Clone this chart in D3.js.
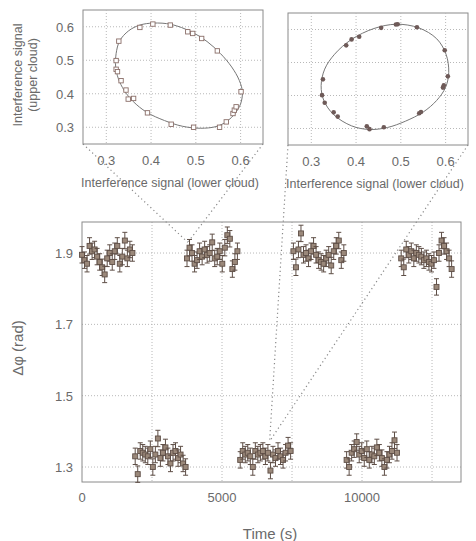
<!DOCTYPE html>
<html>
<head>
<meta charset="utf-8">
<script src="https://cdn.jsdelivr.net/npm/d3@7"></script>
<style>
  body { margin: 0; background: #fff; }
  text { font-family: "Liberation Sans", Arial, sans-serif; fill: #6a6a6a; }
</style>
</head>
<body>
<div id="chart"></div>
<script>
// main panel: phase difference vs time, seven measurement runs
const t_up1 = [0,90,180,270,360,450,540,630,720,810,900,990,1080,1170,1260,1350,1440,1530,1620,1710,1800];
const phi_up1 = [1.895,1.88,1.87,1.92,1.905,1.91,1.89,1.875,1.86,1.84,1.885,1.90,1.875,1.905,1.92,1.87,1.89,1.935,1.885,1.91,1.90];
const t_lo1 = [1900,1990,2080,2170,2260,2350,2440,2530,2620,2710,2800,2890,2980,3070,3160,3250,3340,3430,3520,3610,3700];
const phi_lo1 = [1.33,1.28,1.345,1.34,1.335,1.33,1.35,1.30,1.335,1.38,1.325,1.34,1.355,1.33,1.31,1.34,1.345,1.325,1.335,1.31,1.30];
const t_up2 = [3750,3840,3930,4020,4110,4200,4290,4380,4470,4560,4650,4740,4830,4920,5010,5100,5190,5280,5370,5460,5550];
const phi_up2 = [1.885,1.915,1.90,1.87,1.88,1.905,1.89,1.91,1.895,1.90,1.93,1.885,1.89,1.905,1.87,1.915,1.95,1.94,1.855,1.875,1.905];
const t_lo2 = [5650,5740,5830,5920,6010,6100,6190,6280,6370,6460,6550,6640,6730,6820,6910,7000,7090,7180,7270,7360,7450];
const phi_lo2 = [1.32,1.345,1.335,1.34,1.33,1.30,1.345,1.335,1.34,1.345,1.33,1.34,1.29,1.335,1.325,1.345,1.33,1.32,1.34,1.36,1.345];
const t_up3 = [7550,7640,7730,7820,7910,8000,8090,8180,8270,8360,8450,8540,8630,8720,8810,8900,8990,9080,9170,9260,9350];
const phi_up3 = [1.905,1.86,1.91,1.955,1.895,1.90,1.885,1.905,1.92,1.895,1.88,1.875,1.87,1.885,1.895,1.865,1.905,1.92,1.935,1.88,1.90];
const t_lo3 = [9450,9540,9630,9720,9810,9900,9990,10080,10170,10260,10350,10440,10530,10620,10710,10800,10890,10980,11070,11160,11250];
const phi_lo3 = [1.32,1.30,1.34,1.35,1.37,1.335,1.345,1.325,1.35,1.32,1.335,1.33,1.355,1.34,1.325,1.30,1.32,1.335,1.345,1.375,1.34];
const t_up4 = [11400,11490,11580,11670,11760,11850,11940,12030,12120,12210,12300,12390,12480,12570,12660,12750,12840,12930,13020,13110,13200];
const phi_up4 = [1.885,1.86,1.91,1.895,1.905,1.885,1.90,1.895,1.89,1.88,1.885,1.875,1.87,1.88,1.805,1.90,1.935,1.92,1.905,1.885,1.855];
const phiError = 0.023;

const timeTicks = [0, 5000, 10000];
const timeGrid = [2500, 5000, 7500, 10000, 12500];
const phiTicks = [1.3, 1.5, 1.7, 1.9];

// insets: upper vs lower cloud interference signal, with ellipse fit
const lowerA = [0.375,0.404,0.443,0.482,0.493,0.513,0.548,0.328,0.322,0.322,0.325,0.333,0.344,0.349,0.361,0.392,0.445,0.495,0.553,0.568,0.583,0.586,0.590,0.601];
const upperA = [0.598,0.608,0.605,0.585,0.580,0.565,0.528,0.557,0.499,0.473,0.466,0.439,0.411,0.384,0.386,0.343,0.309,0.300,0.300,0.316,0.341,0.351,0.361,0.406];
const fitA_x = [0.405,0.445,0.49,0.525,0.555,0.58,0.597,0.604,0.600,0.588,0.57,0.545,0.51,0.47,0.43,0.39,0.36,0.34,0.327,0.321,0.322,0.33,0.35,0.375];
const fitA_y = [0.611,0.607,0.585,0.556,0.520,0.480,0.440,0.405,0.370,0.342,0.318,0.302,0.297,0.303,0.320,0.345,0.377,0.410,0.445,0.480,0.520,0.558,0.588,0.605];

const lowerB = [0.489,0.493,0.456,0.536,0.407,0.390,0.378,0.598,0.605,0.596,0.594,0.326,0.324,0.330,0.350,0.359,0.424,0.430,0.462,0.541,0.545];
const upperB = [0.615,0.616,0.605,0.607,0.578,0.570,0.552,0.537,0.458,0.431,0.424,0.449,0.401,0.378,0.349,0.336,0.307,0.298,0.304,0.346,0.350];
const fitB_x = [0.49,0.54,0.58,0.601,0.607,0.600,0.58,0.55,0.51,0.47,0.43,0.39,0.35,0.328,0.322,0.330,0.352,0.39,0.44];
const fitB_y = [0.616,0.605,0.572,0.525,0.470,0.425,0.385,0.350,0.322,0.303,0.297,0.308,0.342,0.385,0.430,0.480,0.525,0.570,0.603];
const cloudTicks = [0.3, 0.4, 0.5, 0.6];

// which run each inset was taken from (time, phase)
const zoomTime = [3780, 6700];
const zoomPhase = [1.93, 1.372];

const W = 476, H = 541;
const svg = d3.select("#chart").append("svg").attr("width", W).attr("height", H);

const x = d3.scaleLinear().domain([0, 13535]).range([82, 461]);
const y = d3.scaleLinear().domain([1.258, 1.987]).range([482, 222]);

const gridColor = "#b8b8b8", frameColor = "#8a8a8a";

// main grid
svg.append("g").selectAll("line").data(timeGrid).join("line")
  .attr("x1", d => x(d)).attr("x2", d => x(d)).attr("y1", 222).attr("y2", 482)
  .attr("stroke", gridColor).attr("stroke-dasharray", "1,2");
svg.append("g").selectAll("line").data(phiTicks).join("line")
  .attr("x1", 82).attr("x2", 461).attr("y1", d => y(d)).attr("y2", d => y(d))
  .attr("stroke", gridColor).attr("stroke-dasharray", "1,2");

// connectors from insets to the runs
const insetA = {x0: 83, y0: 10, x1: 263, y1: 144};
const insetB = {x0: 288, y0: 13, x1: 468, y1: 145};
const conn = [];
[insetA, insetB].forEach((r, i) => {
  conn.push([r.x0, r.y1, x(zoomTime[i]), y(zoomPhase[i])]);
  conn.push([r.x1, r.y1, x(zoomTime[i]), y(zoomPhase[i])]);
});
svg.append("g").selectAll("line").data(conn).join("line")
  .attr("x1", d => d[0]).attr("y1", d => d[1]).attr("x2", d => d[2]).attr("y2", d => d[3])
  .attr("stroke", "#888").attr("stroke-width", 1.2).attr("stroke-dasharray", "1.2,3");

// main frame
svg.append("rect").attr("x", 82).attr("y", 222).attr("width", 379).attr("height", 260)
  .attr("fill", "none").attr("stroke", frameColor);

// points
const runs = [[t_up1, phi_up1], [t_lo1, phi_lo1], [t_up2, phi_up2], [t_lo2, phi_lo2],
              [t_up3, phi_up3], [t_lo3, phi_lo3], [t_up4, phi_up4]];
const pts = [];
runs.forEach(([ts, ps]) => ts.forEach((t, i) => pts.push({t: t, v: ps[i]})));

const pg = svg.append("g");
const eb = pg.selectAll("g").data(pts).join("g");
eb.append("line").attr("x1", d => x(d.t)).attr("x2", d => x(d.t))
  .attr("y1", d => y(d.v - phiError)).attr("y2", d => y(d.v + phiError))
  .attr("stroke", "#5e4e46").attr("stroke-width", 1);
eb.append("line").attr("x1", d => x(d.t) - 2.5).attr("x2", d => x(d.t) + 2.5)
  .attr("y1", d => y(d.v + phiError)).attr("y2", d => y(d.v + phiError))
  .attr("stroke", "#5e4e46");
eb.append("line").attr("x1", d => x(d.t) - 2.5).attr("x2", d => x(d.t) + 2.5)
  .attr("y1", d => y(d.v - phiError)).attr("y2", d => y(d.v - phiError))
  .attr("stroke", "#5e4e46");
eb.append("rect").attr("x", d => x(d.t) - 2.5).attr("y", d => y(d.v) - 2.5)
  .attr("width", 5).attr("height", 5)
  .attr("fill", "#9a887a").attr("stroke", "#5e4e46").attr("stroke-width", 0.9);

// main axes labels
svg.append("g").selectAll("text").data(phiTicks).join("text")
  .attr("x", 73).attr("y", d => y(d) + 5).attr("text-anchor", "end")
  .attr("font-size", 13).text(d => d.toFixed(1));
svg.append("g").selectAll("text").data(timeTicks).join("text")
  .attr("x", d => x(d)).attr("y", 502).attr("text-anchor", "middle")
  .attr("font-size", 13).text(d => d);
svg.append("text").attr("x", 270).attr("y", 539).attr("text-anchor", "middle")
  .attr("font-size", 15).text("Time (s)");
svg.append("text").attr("transform", "translate(23,348) rotate(-90)")
  .attr("text-anchor", "middle").attr("font-size", 15).text("Δφ (rad)");

// insets
function inset(r, xs, ys, fx, fy, filled, showY) {
  const sx = d3.scaleLinear().domain([0.248, 0.65]).range([r.x0, r.x1]);
  const sy = d3.scaleLinear().domain([0.25, 0.65]).range([r.y1, r.y0]);
  const g = svg.append("g");
  g.append("rect").attr("x", r.x0).attr("y", r.y0).attr("width", r.x1 - r.x0).attr("height", r.y1 - r.y0)
    .attr("fill", "#fff").attr("stroke", frameColor);
  g.append("g").selectAll("line").data(cloudTicks).join("line")
    .attr("x1", d => sx(d)).attr("x2", d => sx(d)).attr("y1", r.y0).attr("y2", r.y1)
    .attr("stroke", gridColor).attr("stroke-dasharray", "1,2");
  g.append("g").selectAll("line").data(cloudTicks).join("line")
    .attr("x1", r.x0).attr("x2", r.x1).attr("y1", d => sy(d)).attr("y2", d => sy(d))
    .attr("stroke", gridColor).attr("stroke-dasharray", "1,2");
  const fit = fx.map((v, i) => [v, fy[i]]);
  g.append("path").datum(fit)
    .attr("d", d3.line().x(d => sx(d[0])).y(d => sy(d[1])).curve(d3.curveCatmullRomClosed))
    .attr("fill", "none").attr("stroke", "#777").attr("stroke-width", 1);
  const pp = xs.map((v, i) => [v, ys[i]]);
  if (filled) {
    g.append("g").selectAll("circle").data(pp).join("circle")
      .attr("cx", d => sx(d[0])).attr("cy", d => sy(d[1])).attr("r", 2.3)
      .attr("fill", "#6e5a58");
  } else {
    g.append("g").selectAll("rect").data(pp).join("rect")
      .attr("x", d => sx(d[0]) - 2.2).attr("y", d => sy(d[1]) - 2.2)
      .attr("width", 4.4).attr("height", 4.4)
      .attr("fill", "#fff").attr("stroke", "#8a6e68").attr("stroke-width", 0.9);
  }
  g.append("g").selectAll("text").data(cloudTicks).join("text")
    .attr("x", d => sx(d)).attr("y", r.y1 + 21).attr("text-anchor", "middle")
    .attr("font-size", 13).text(d => d.toFixed(1));
  if (showY) {
    g.append("g").selectAll("text").data(cloudTicks).join("text")
      .attr("x", r.x0 - 9).attr("y", d => sy(d) + 5).attr("text-anchor", "end")
      .attr("font-size", 13).text(d => d.toFixed(1));
  }
  g.append("text").attr("x", (r.x0 + r.x1) / 2 - 3).attr("y", r.y1 + 43)
    .attr("text-anchor", "middle").attr("font-size", 12.5)
    .text("Interference signal (lower cloud)");
}
inset(insetA, lowerA, upperA, fitA_x, fitA_y, false, true);
inset(insetB, lowerB, upperB, fitB_x, fitB_y, true, false);

svg.append("text").attr("transform", "translate(22,75) rotate(-90)")
  .attr("text-anchor", "middle").attr("font-size", 12.5).text("Interference signal");
svg.append("text").attr("transform", "translate(37,75) rotate(-90)")
  .attr("text-anchor", "middle").attr("font-size", 12.5).text("(upper cloud)");
</script>
</body>
</html>
